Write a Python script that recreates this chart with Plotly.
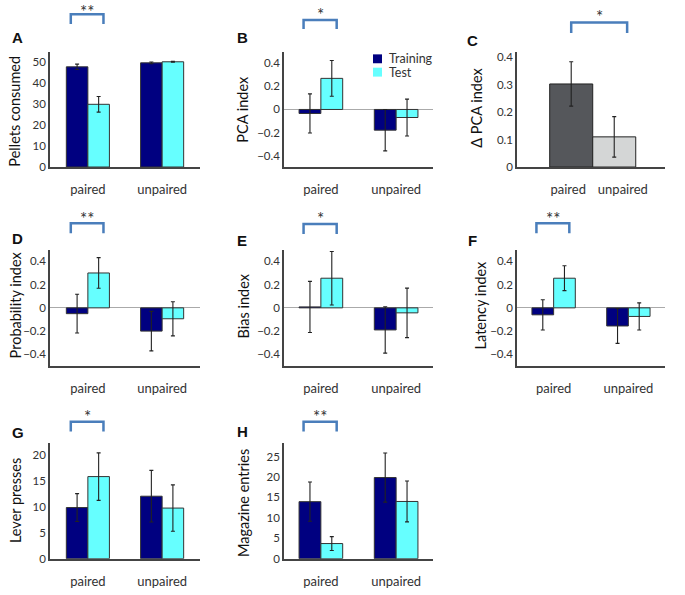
import plotly.graph_objects as go

W, H = 685, 595

# ---------------- data ----------------
groups = ["paired", "unpaired"]
series_names = ["Training", "Test"]

pellets_train = [47.6, 49.5]
pellets_train_err = [1.3, 0.4]
pellets_test = [29.8, 50.0]
pellets_test_err = [3.7, 0.2]

pca_train = [-0.035, -0.18]
pca_train_err = [0.17, 0.18]
pca_test = [0.27, -0.07]
pca_test_err = [0.155, 0.16]

dpca_vals = [0.303, 0.11]
dpca_err = [0.081, 0.074]

prob_train = [-0.05, -0.2]
prob_train_err = [0.167, 0.17]
prob_test = [0.30, -0.094]
prob_test_err = [0.132, 0.147]

bias_train = [0.008, -0.19]
bias_train_err = [0.22, 0.2]
bias_test = [0.255, -0.043]
bias_test_err = [0.23, 0.213]

lat_train = [-0.06, -0.156]
lat_train_err = [0.13, 0.15]
lat_test = [0.255, -0.074]
lat_test_err = [0.107, 0.117]

lever_train = [9.9, 12.1]
lever_train_err = [2.7, 5.0]
lever_test = [15.9, 9.8]
lever_test_err = [4.6, 4.5]

mag_train = [13.95, 19.85]
mag_train_err = [4.8, 6.0]
mag_test = [3.7, 14.0]
mag_test_err = [1.7, 5.0]

idx_ticks = [-0.4, -0.2, 0, 0.2, 0.4]
idx_ticktext = ["\u22120.4", "\u22120.2", "0", "0.2", "0.4"]

# ---------------- style ----------------
C_TRAIN = "#000080"
C_TEST = "#66FFFF"
C_PAIRED = "#55575B"
C_UNPAIRED = "#D4D6D6"
C_BRACKET = "#4A7EBB"
TXT = "#333333"
FONT = "Lato"
STAR_SIZE = 17

col_px = [(50, 200), (284, 433), (517, 665)]
row_px = [(51.5, 168), (251.7, 369.3), (447.3, 564.3)]
col_xrange = [[-0.51, 1.51], [-0.49, 1.49], [-0.49, 1.49]]


def fx(p):
    return p / W


def fy(p):
    return 1 - p / H


panels = [
    dict(letter="A", r=0, c=0, title="Pellets consumed", yr=[0, 54.7],
         tv=[0, 10, 20, 30, 40, 50], tt=None, tr=pellets_train, tre=pellets_train_err,
         te=pellets_test, tee=pellets_test_err, stars="**", zl=False,
         br=(13.3, 23.3), sy=6.5, letpos=(17, 37), tpos=(15, 112)),
    dict(letter="B", r=0, c=1, title="PCA index", yr=[-0.5, 0.5],
         tv=idx_ticks, tt=idx_ticktext, tr=pca_train, tre=pca_train_err,
         te=pca_test, tee=pca_test_err, stars="*", zl=True,
         br=(19.3, 28.3), sy=12, letpos=(242, 37), tpos=(243, 109)),
    dict(letter="C", r=0, c=2, title="\u0394 PCA index", yr=[0, 0.42],
         tv=[0, 0.1, 0.2, 0.3, 0.4], tt=["0", "0.1", "0.2", "0.3", "0.4"],
         single=True, stars="*", zl=False,
         br=(21.7, 32.3), sy=13.7, letpos=(473, 40), tpos=(477, 108)),
    dict(letter="D", r=1, c=0, title="Probability index", yr=[-0.5, 0.5],
         tv=idx_ticks, tt=idx_ticktext, tr=prob_train, tre=prob_train_err,
         te=prob_test, tee=prob_test_err, stars="**", zl=True,
         br=(225, 235), sy=218.3, letpos=(17, 240), tpos=(15, 308)),
    dict(letter="E", r=1, c=1, title="Bias index", yr=[-0.5, 0.5],
         tv=idx_ticks, tt=idx_ticktext, tr=bias_train, tre=bias_train_err,
         te=bias_test, tee=bias_test_err, stars="*", zl=True,
         br=(225.7, 235.7), sy=218, letpos=(242, 242), tpos=(243, 308)),
    dict(letter="F", r=1, c=2, title="Latency index", yr=[-0.5, 0.5],
         tv=idx_ticks, tt=idx_ticktext, tr=lat_train, tre=lat_train_err,
         te=lat_test, tee=lat_test_err, stars="**", zl=True,
         br=(225, 235), sy=218.5, letpos=(472, 242), tpos=(480, 308)),
    dict(letter="G", r=2, c=0, title="Lever presses", yr=[0, 22.4],
         tv=[0, 5, 10, 15, 20], tt=None, tr=lever_train, tre=lever_train_err,
         te=lever_test, tee=lever_test_err, stars="*", zl=False,
         br=(425.7, 435.7), sy=418.6, letpos=(18, 437), tpos=(15, 506)),
    dict(letter="H", r=2, c=1, title="Magazine entries", yr=[0, 28.3],
         tv=[0, 5, 10, 15, 20, 25], tt=None, tr=mag_train, tre=mag_train_err,
         te=mag_test, tee=mag_test_err, stars="**", zl=False,
         br=(425.7, 435.7), sy=418.6, letpos=(242, 436), tpos=(243, 508)),
]

fig = go.Figure()
layout = dict(
    width=W, height=H, margin=dict(l=0, r=0, t=0, b=0),
    paper_bgcolor="white", plot_bgcolor="white",
    barmode="overlay", showlegend=False,
    font=dict(family=FONT, color=TXT),
)
annotations = []
shapes = []

BW = 0.29
errstyle = dict(type="data", color="#222222", thickness=1.1, width=2)

for i, p in enumerate(panels, start=1):
    xa = "x" if i == 1 else f"x{i}"
    ya = "y" if i == 1 else f"y{i}"
    xkey = "xaxis" if i == 1 else f"xaxis{i}"
    ykey = "yaxis" if i == 1 else f"yaxis{i}"
    x0p, x1p = col_px[p["c"]]
    y0p, y1p = row_px[p["r"]]
    single = p.get("single", False)
    xr = [-1.26, 2.18] if single else col_xrange[p["c"]]

    if single:
        fig.add_trace(go.Bar(
            x=[0, 1], y=dpca_vals, width=[1, 1], offset=[-0.5, -0.5],
            marker=dict(color=[C_PAIRED, C_UNPAIRED], line=dict(color="#222222", width=1)),
            error_y=dict(array=dpca_err, **errstyle),
            xaxis=xa, yaxis=ya, name="\u0394 PCA"))
        tickvals = [-0.07, 1.2]
    else:
        fig.add_trace(go.Bar(
            x=[0, 1], y=p["tr"], width=BW, offset=-BW,
            marker=dict(color=C_TRAIN, line=dict(color="#333333", width=1)),
            error_y=dict(array=p["tre"], **errstyle),
            xaxis=xa, yaxis=ya, name=series_names[0]))
        fig.add_trace(go.Bar(
            x=[0, 1], y=p["te"], width=BW, offset=0,
            marker=dict(color=C_TEST, line=dict(color="#333333", width=1)),
            error_y=dict(array=p["tee"], **errstyle),
            xaxis=xa, yaxis=ya, name=series_names[1]))
        tickvals = [0, 1]

    layout[xkey] = dict(
        domain=[fx(x0p), fx(x1p)], range=xr, anchor=ya,
        tickmode="array", tickvals=tickvals, ticktext=groups, tickangle=0,
        showline=True, linecolor="#444444", linewidth=1.5,
        showgrid=False, zeroline=False, ticks="",
        ticklabelstandoff=10,
        tickfont=dict(family=FONT, size=13, color=TXT), fixedrange=True)
    yax = dict(
        domain=[fy(y1p), fy(y0p)], range=p["yr"], anchor=xa,
        tickmode="array", tickvals=p["tv"],
        showline=True, linecolor="#444444", linewidth=1.5,
        showgrid=False, ticks="",
        zeroline=p["zl"], zerolinecolor="#AAAAAA", zerolinewidth=1,
        tickfont=dict(family=FONT, size=11.5, color=TXT), fixedrange=True)
    if p["tt"] is not None:
        yax["ticktext"] = p["tt"]
    layout[ykey] = yax

    # panel letter
    annotations.append(dict(
        text=f"<b>{p['letter']}</b>", x=fx(p["letpos"][0]), y=fy(p["letpos"][1]),
        xref="paper", yref="paper", showarrow=False, xanchor="center", yanchor="middle",
        font=dict(family="Liberation Sans", size=15, color="#111111")))
    # y-axis title
    annotations.append(dict(
        text=p["title"], x=fx(p["tpos"][0]), y=fy(p["tpos"][1]),
        xref="paper", yref="paper", showarrow=False, textangle=-90,
        xanchor="center", yanchor="middle",
        font=dict(family=FONT, size=14.5, color="#111111")))
    # significance bracket
    bx = (0.0, 1.3) if single else (-0.23, 0.21)
    btop, bbot = fy(p["br"][0]), fy(p["br"][1])
    shapes.append(dict(
        type="path", xref=xa, yref="paper",
        path=f"M {bx[0]},{bbot} L {bx[0]},{btop} L {bx[1]},{btop} L {bx[1]},{bbot}",
        line=dict(color=C_BRACKET, width=2.5)))
    star_mid = max(p["sy"] + 1.7, 10.6)
    annotations.append(dict(
        text=p["stars"], x=(bx[0] + bx[1]) / 2, y=fy(star_mid),
        xref=xa, yref="paper", showarrow=False, xanchor="center", yanchor="middle",
        font=dict(family=FONT, size=STAR_SIZE, color=TXT)))

# legend (panel B)
leg_items = [(series_names[0], C_TRAIN, 58.5), (series_names[1], C_TEST, 72)]
for name, col, yc in leg_items:
    shapes.append(dict(type="rect", xref="paper", yref="paper",
                       x0=fx(373), x1=fx(382), y0=fy(yc + 4.5), y1=fy(yc - 4.5),
                       fillcolor=col, line=dict(width=0)))
    annotations.append(dict(text=name, x=fx(387), y=fy(yc), xref="paper", yref="paper",
                            showarrow=False, xanchor="left", yanchor="middle",
                            font=dict(family=FONT, size=12.5, color=TXT)))

layout["annotations"] = annotations
layout["shapes"] = shapes
fig.update_layout(**layout)

fig.write_html(
    "out.html",
    config={"displayModeBar": False},
    post_script="document.body.style.margin='0';document.body.style.overflow='hidden';",
)
